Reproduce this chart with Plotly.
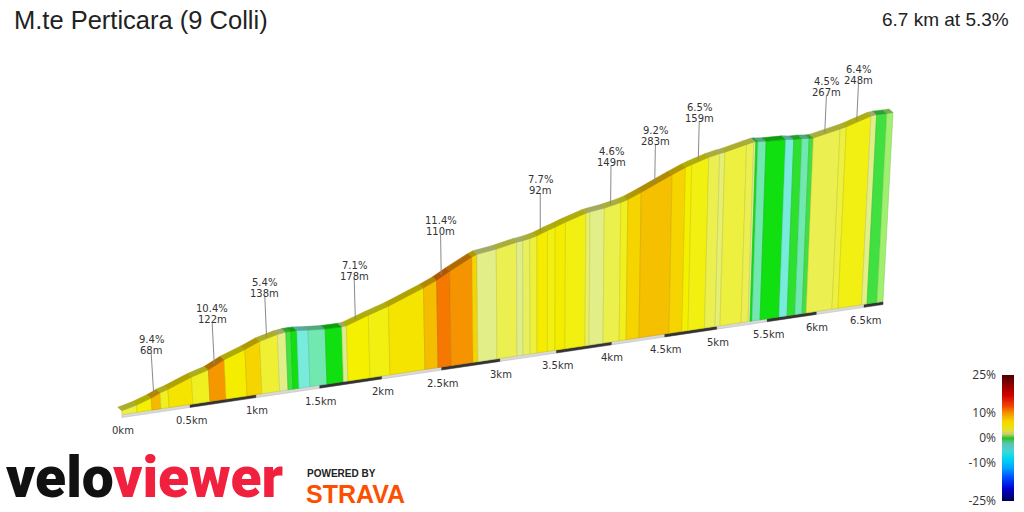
import numpy as np
import plotly.graph_objects as go

# ---------------- data ----------------
TITLE = "M.te Perticara (9 Colli)"
SUMMARY = "6.7 km at 5.3%"

boundary_km = [0.000, 0.109, 0.219, 0.285, 0.344, 0.522, 0.650, 0.772, 0.932, 1.047,
               1.185, 1.250, 1.289, 1.336, 1.423, 1.558, 1.690, 1.727, 1.905, 2.069,
               2.360, 2.470, 2.580, 2.768, 2.810, 2.975, 3.150, 3.203, 3.265, 3.327,
               3.419, 3.487, 3.577, 3.758, 3.795, 3.923, 4.072, 4.136, 4.257, 4.540,
               4.664, 4.722, 4.881, 4.984, 5.033, 5.240, 5.309, 5.329, 5.349, 5.429,
               5.620, 5.701, 5.782, 5.854, 5.896, 6.163, 6.226, 6.474, 6.532, 6.638,
               6.702]
segment_grade = [5, 7, 9.4, 6, 8, 6, 10.4, 7.5, 8.5, 5.4,
                 3, 0.5, 0, -2, -1.5, 0, 2, 7.1, 6.5, 8,
                 9.3, 11.4, 10.5, 8.5, 3, 4.5, 2.5, 4, 5, 7.7,
                 6.5, 7.5, 6.5, 4, 3, 4.6, 6, 8.5, 9.2, 8.5,
                 7, 6.5, 4.5, 3.5, 5, 4.5, 2, 0, -1.5, 0,
                 -2, 0.3, -1.5, 0.5, 4.5, 5, 6.4, 3, 0.5, 1.2]
start_elevation_m = 300.0

climb_segment = [2, 6, 9, 17, 21, 29, 35, 38, 41, 54, 56]
climb_length_m = [68, 122, 138, 178, 110, 92, 149, 283, 159, 267, 248]

km_ticks = [0, 0.5, 1, 1.5, 2, 2.5, 3, 3.5, 4, 4.5, 5, 5.5, 6, 6.5]
km_tick_labels = ["0km", "0.5km", "1km", "1.5km", "2km", "2.5km", "3km", "3.5km",
                  "4km", "4.5km", "5km", "5.5km", "6km", "6.5km"]

legend_grades = [25, 10, 0, -10, -25]
legend_labels = ["25%", "10%", "0%", "-10%", "-25%"]

# colour scale of the profile faces (grade % -> colour)
face_stop_grade = [-25, -10, -5, -3, -2, -1.5, -0.5, 0, 0.5, 1.2, 2, 3, 4, 5, 6, 7, 7.7,
                   8.5, 9.2, 10, 10.5, 11.4, 13, 16, 20, 25]
face_stop_color = ["#000050", "#00c8f0", "#40e0e8", "#88f0f0", "#78ecdc", "#70e8b0",
                   "#40e070", "#10e010", "#40e040", "#a0f070", "#dcec90", "#e2ee88",
                   "#e8f060", "#eef040", "#f0f020", "#f5f000", "#f5ec00", "#f5d400",
                   "#f5c000", "#f5a800", "#f59400", "#f57800", "#f05000", "#d81000",
                   "#a00000", "#500000"]
# colour scale of the legend bar
bar_stop_grade = [-25, -20, -16, -12, -8, -5, -2, 0, 1.5, 3, 5, 7, 10, 13, 17, 21, 25]
bar_stop_color = ["#000050", "#0000d0", "#0040ff", "#00a0ff", "#00d8f0", "#40d8d8",
                  "#60c0b0", "#20c820", "#c8c870", "#e0e040", "#f0e000", "#f5d000",
                  "#f59000", "#f04000", "#d00000", "#900000", "#4a0000"]

# ---------------- helpers ----------------
def hex_rgb(h):
    h = h.lstrip("#")
    return np.array([int(h[i:i + 2], 16) for i in (0, 2, 4)], dtype=float)

def rgb_str(c):
    c = np.clip(c, 0, 255)
    return "rgb(%d,%d,%d)" % tuple(int(round(v)) for v in c)

def grade_rgb(g, sg, sc):
    g = min(max(g, sg[0]), sg[-1])
    for i in range(len(sg) - 1):
        if sg[i] <= g <= sg[i + 1]:
            t = (g - sg[i]) / (sg[i + 1] - sg[i]) if sg[i + 1] > sg[i] else 0
            return hex_rgb(sc[i]) * (1 - t) + hex_rgb(sc[i + 1]) * t
    return hex_rgb(sc[-1])

bk = np.array(boundary_km)
gr = np.array(segment_grade, dtype=float)
elev = start_elevation_m + np.concatenate([[0.0], np.cumsum(np.diff(bk) * 1000 * gr / 100)])

# pseudo-3D projection
K, C = 138.2, 0.0324
X0, Y0, SLOPE = 122.0, 414.5, 0.1485
HS, PAD_M = 0.635, 6.0
LX, LH = 541.0, 6450.0
DX, DY = -4.0, -3.5
PLATE = 3.0

def base_xy(d):
    x = X0 + K * d / (1 + C * d)
    return x, Y0 - SLOPE * (x - X0)

def top_xy(d, e):
    x, y = base_xy(d)
    h = HS * (e - elev[0] + PAD_M) / (1 + C * d)
    return x + (x - LX) / LH * h, y - h

def elev_at(d):
    return float(np.interp(d, bk, elev))

fig = go.Figure()

def poly(xs, ys, fill, line, width=0.6):
    fig.add_trace(go.Scatter(x=list(xs) + [xs[0]], y=list(ys) + [ys[0]], mode="lines",
                             fill="toself", fillcolor=fill,
                             line=dict(color=line, width=width),
                             hoverinfo="skip", showlegend=False))

# base plate
dd = np.linspace(bk[0], bk[-1], 60)
bxs, bys = zip(*[base_xy(d) for d in dd])
poly(list(bxs) + list(bxs[::-1]), list(bys) + [y + PLATE for y in bys[::-1]],
     "#d9d9d9", "#bdbdbd", 0.6)
for d0 in km_ticks[1::2]:
    d1 = min(d0 + 0.5, bk[-1])
    seg = np.linspace(d0, d1, 8)
    sx, sy = zip(*[base_xy(d) for d in seg])
    poly(list(sx) + list(sx[::-1]), list(sy) + [y + PLATE for y in sy[::-1]],
         "#333333", "#333333", 0.4)

# front faces
for i in range(len(gr)):
    d0, d1 = bk[i], bk[i + 1]
    c = grade_rgb(gr[i], face_stop_grade, face_stop_color)
    bx0, by0 = base_xy(d0)
    bx1, by1 = base_xy(d1)
    tx0, ty0 = top_xy(d0, elev[i])
    tx1, ty1 = top_xy(d1, elev[i + 1])
    poly([bx0, bx1, tx1, tx0], [by0, by1, ty1, ty0], rgb_str(c), rgb_str(c * 0.86), 0.6)

# top surface band
for i in range(len(gr)):
    d0, d1 = bk[i], bk[i + 1]
    c = grade_rgb(gr[i], face_stop_grade, face_stop_color)
    tx0, ty0 = top_xy(d0, elev[i])
    tx1, ty1 = top_xy(d1, elev[i + 1])
    poly([tx0, tx1, tx1 + DX, tx0 + DX], [ty0, ty1, ty1 + DY, ty0 + DY],
         rgb_str(c * 0.72), rgb_str(c * 0.68), 0.5)

annotations = []
label_font = dict(family="DejaVu Sans", size=10, color="#333333")

# km labels
for d, lab in zip(km_ticks, km_tick_labels):
    x, y = base_xy(d)
    annotations.append(dict(x=x + 1, y=y + 16, text=lab, showarrow=False,
                            xanchor="center", yanchor="middle", font=label_font))

# climb labels
for idx, length in zip(climb_segment, climb_length_m):
    dc = 0.5 * (bk[idx] + bk[idx + 1])
    tx, ty = top_xy(dc, elev_at(dc))
    ax, ay = tx + DX / 2, ty - 0.5
    L = 42 * (1 - 0.017 * dc)
    lx, ly = ax + (ax - LX) / LH * L, ay - L
    fig.add_trace(go.Scatter(x=[ax, lx], y=[ay, ly], mode="lines",
                             line=dict(color="#8a8a8a", width=1),
                             hoverinfo="skip", showlegend=False))
    g = segment_grade[idx]
    annotations.append(dict(x=lx, y=ly - 14, text="%g%%" % g, showarrow=False,
                            xanchor="center", yanchor="middle", font=label_font))
    annotations.append(dict(x=lx, y=ly - 3, text="%dm" % length, showarrow=False,
                            xanchor="center", yanchor="middle", font=label_font))

# title and summary
annotations.append(dict(x=12, y=20, text=TITLE, showarrow=False, xanchor="left",
                        yanchor="middle",
                        font=dict(family="Liberation Sans, Arial", size=25.5, color="#222222")))
annotations.append(dict(x=1011, y=19, text=SUMMARY, showarrow=False, xanchor="right",
                        yanchor="middle",
                        font=dict(family="Liberation Sans, Arial", size=19, color="#222222")))

# logos
annotations.append(dict(x=4, y=477, text="velo", showarrow=False, xanchor="left",
                        yanchor="middle",
                        font=dict(family="Roboto", size=57, weight=900, color="#111111")))
annotations.append(dict(x=286, y=477, text="viewer", showarrow=False, xanchor="right",
                        yanchor="middle",
                        font=dict(family="Roboto", size=57, weight=900, color="#f2203f")))
annotations.append(dict(x=305, y=473, text="<b>POWERED BY</b>", showarrow=False,
                        xanchor="left", yanchor="middle",
                        font=dict(family="Liberation Sans", size=10, color="#222222")))
annotations.append(dict(x=304, y=494, text="<b>STRAVA</b>", showarrow=False,
                        xanchor="left", yanchor="middle",
                        font=dict(family="Liberation Sans", size=25, color="#fc5000")))

# legend bar (linear grade scale)
def bar_pos(g):
    return g / 25.0

tvals = np.linspace(-1, 1, 201)
cs = sorted([((bar_pos(g) + 1) / 2, c) for g, c in zip(bar_stop_grade, bar_stop_color)])
fig.add_trace(go.Heatmap(z=[[t] for t in tvals], x=[0.5], y=tvals, colorscale=cs,
                         zmin=-1, zmax=1, showscale=False, hoverinfo="skip",
                         xaxis="x2", yaxis="y2"))

fig.update_layout(
    width=1024, height=512, autosize=False,
    margin=dict(l=0, r=0, t=0, b=0, pad=0, autoexpand=False),
    paper_bgcolor="white", plot_bgcolor="white", showlegend=False,
    xaxis=dict(range=[0, 1024], visible=False, domain=[0, 1], fixedrange=True,
               automargin=False),
    yaxis=dict(range=[512, 0], visible=False, domain=[0, 1], fixedrange=True,
               automargin=False),
    xaxis2=dict(range=[0, 1], visible=False, domain=[1002 / 1024, 1014 / 1024], anchor="y2",
                automargin=False),
    yaxis2=dict(range=[-1, 1], domain=[(512 - 501) / 512, (512 - 375) / 512], anchor="x2",
                side="left", showgrid=False, zeroline=False, showline=False, ticks="",
                automargin=False,
                tickvals=[bar_pos(g) for g in legend_grades], ticktext=legend_labels,
                ticklabelstandoff=5,
                tickfont=dict(family="Open Sans", size=12, color="#333333")),
    annotations=annotations,
)

fig.write_html("out.html", config={"displayModeBar": False})
